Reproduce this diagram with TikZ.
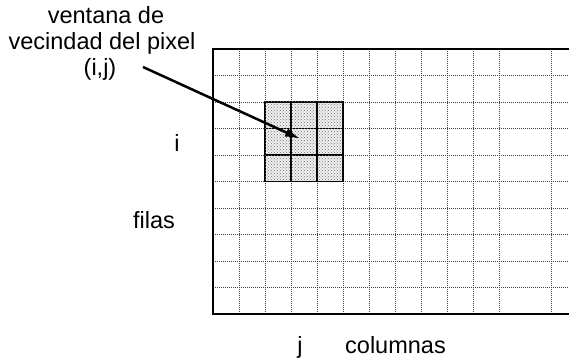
\documentclass[tikz,border=0pt]{standalone}
\usepackage{fontspec}
\setmainfont{Liberation Sans}
\usetikzlibrary{arrows.meta,patterns,calc}

\tikzset{
  frameline/.style={line width=2.6pt, line join=miter},
  gridline/.style={line width=0.6pt, black!75, dash pattern=on 0.9pt off 1.1pt},
  cellbox/.style={draw, line width=1.4pt, fill=black!6,
    postaction={pattern=crosshatch dots, pattern color=black!55},
    minimum width=26pt, minimum height=26.5pt, inner sep=0pt},
  lbl/.style={font=\fontsize{23.5}{26}\selectfont, inner sep=0pt, anchor=base},
  pointer/.style={line width=2.5pt, -{Latex[length=15pt,width=9pt]}},
}

\begin{document}
\begin{tikzpicture}[x=1pt, y=-1pt]
  \useasboundingbox (0,0) rectangle (569,358);

  % dotted image grid
  \foreach \gx in {239,265,291,317,343,369,395,421,447,473,499,551}
    \draw[gridline] (\gx,49) -- (\gx,314);
  \foreach \gy in {75.5,102,128.5,155,181.5,208,234.5,261,287.5}
    \draw[gridline] (213,\gy) -- (569,\gy);

  % image border (open on the right)
  \draw[frameline] (569,49) -- (213,49) -- (213,314) -- (569,314);

  % 3x3 neighbourhood window
  \foreach \r in {1,2,3}
    \foreach \c in {1,2,3}
      \node[cellbox] (c\r\c) at ({265+26*(\c-0.5)}, {102+26.5*(\r-0.5)}) {};

  % labels
  \node[lbl] (lab1) at (106,24) {ventana de};
  \node[lbl] (lab2) at (102,50) {vecindad del pixel};
  \node[lbl] (lab3) at (100,76) {(i,j)};
  \node[lbl] (rowi) at (177,152) {i};
  \node[lbl] (filas) at (154,228) {filas};
  \node[lbl] (colj) at (300,353) {j};
  \node[lbl, anchor=base west] (cols) at (345,353) {columnas};

  % pointer to the centre pixel
  \coordinate (tail) at (143,67);
  \coordinate (tip) at ($(c22.center)+(-4,-3)$);
  \draw[pointer] (tail) -- (tip);
\end{tikzpicture}
\end{document}
